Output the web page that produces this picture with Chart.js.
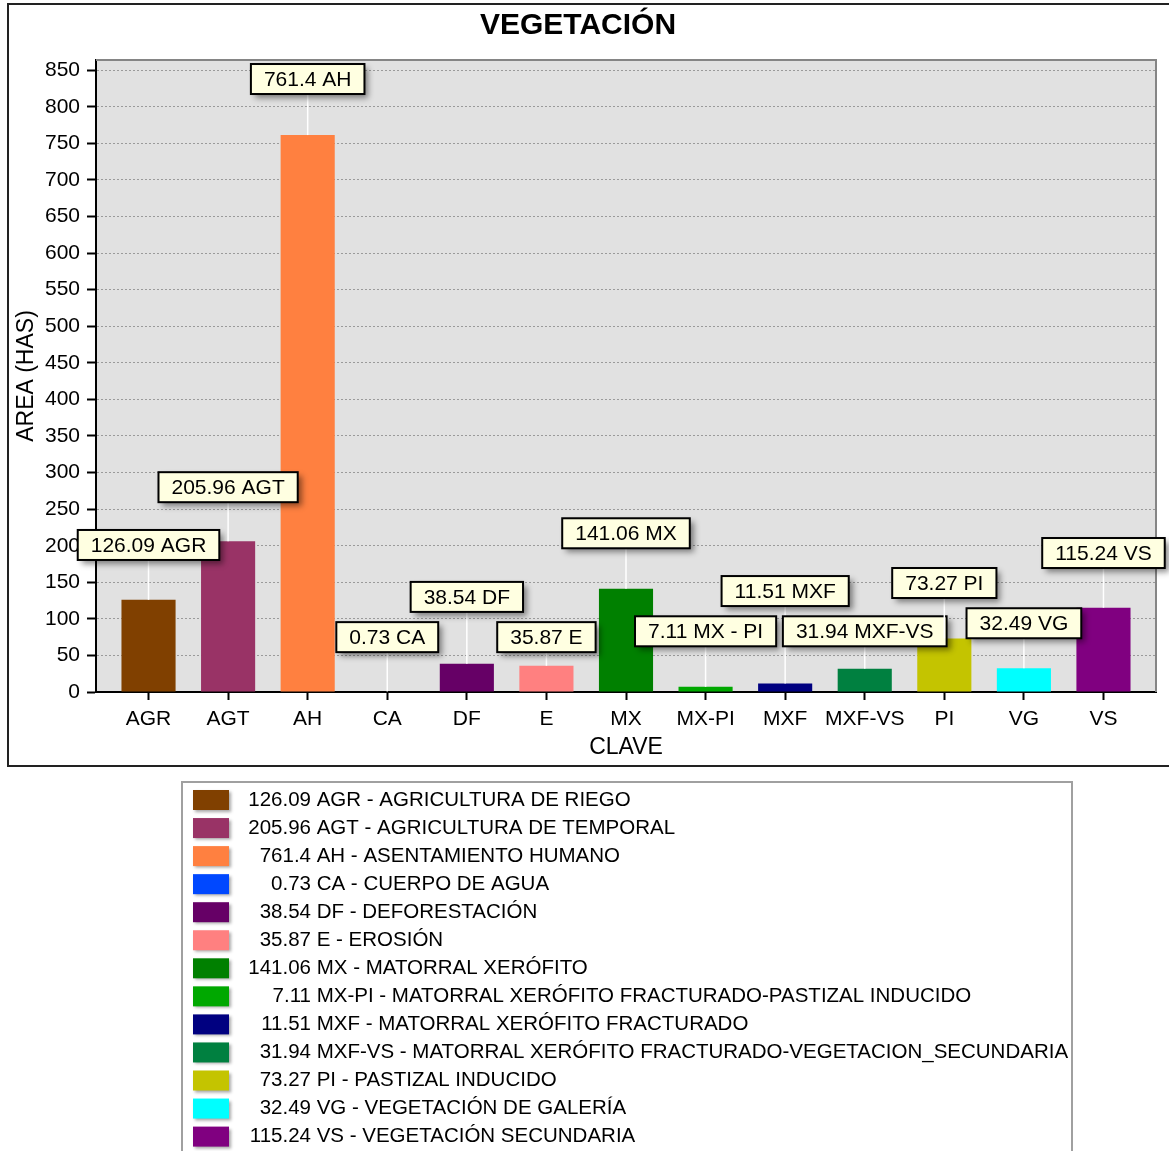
<!DOCTYPE html>
<html><head><meta charset="utf-8">
<script src="https://cdn.jsdelivr.net/npm/chart.js@4/dist/chart.umd.min.js"></script>
<style>html,body{margin:0;padding:0;background:#fff}canvas{display:block}</style>
</head><body>
<canvas id="c" width="1169" height="1151"></canvas>
<script>
// ---- data ----
const categories = ['AGR','AGT','AH','CA','DF','E','MX','MX-PI','MXF','MXF-VS','PI','VG','VS'];
const values = [126.09, 205.96, 761.4, 0.73, 38.54, 35.87, 141.06, 7.11, 11.51, 31.94, 73.27, 32.49, 115.24];
const descriptions = [
  'AGRICULTURA DE RIEGO',
  'AGRICULTURA DE TEMPORAL',
  'ASENTAMIENTO HUMANO',
  'CUERPO DE AGUA',
  'DEFORESTACIÓN',
  'EROSIÓN',
  'MATORRAL XERÓFITO',
  'MATORRAL XERÓFITO FRACTURADO-PASTIZAL INDUCIDO',
  'MATORRAL XERÓFITO FRACTURADO',
  'MATORRAL XERÓFITO FRACTURADO-VEGETACION_SECUNDARIA',
  'PASTIZAL INDUCIDO',
  'VEGETACIÓN DE GALERÍA',
  'VEGETACIÓN SECUNDARIA'
];
const calloutCodes = ['AGR','AGT','AH','CA','DF','E','MX','MX - PI','MXF','MXF-VS','PI','VG','VS'];
// vertical level (in data units) of each callout box centre
const calloutLevels = [201, 280, 838, 75, 130, 75, 217, 83, 138, 83, 149, 94, 190];
const colors = ['#804000','#993366','#ff8040','#0048ff','#660066','#ff8080','#008000','#00a800','#000080','#008040','#c4c400','#00ffff','#800080'];
const yTickValues = [0,50,100,150,200,250,300,350,400,450,500,550,600,650,700,750,800,850];

const FONT = "'Liberation Sans', Arial, sans-serif";
Chart.defaults.font.family = FONT;
Chart.defaults.color = '#000';

const bgPlugin = {
  id: 'bg',
  beforeDraw(chart) {
    const {ctx, chartArea: a} = chart;
    ctx.save();
    ctx.fillStyle = '#fff';
    ctx.fillRect(0, 0, chart.width, chart.height);
    ctx.fillStyle = '#e1e1e1';
    ctx.fillRect(a.left, a.top, a.right - a.left, a.bottom - a.top);
    ctx.restore();
  }
};

const overlayPlugin = {
  id: 'overlay',
  afterDraw(chart) {
    const {ctx, chartArea: a} = chart;
    const xs = chart.scales.x, ys = chart.scales.y;
    ctx.save();
    // outer frame
    ctx.strokeStyle = '#222';
    ctx.lineWidth = 2;
    ctx.strokeRect(8, 4, 1170, 762);
    // plot top/right frame
    ctx.strokeStyle = '#858585';
    ctx.lineWidth = 2;
    ctx.beginPath();
    ctx.moveTo(a.left, a.top);
    ctx.lineTo(a.right, a.top);
    ctx.lineTo(a.right, a.bottom);
    ctx.stroke();

    // callouts
    ctx.font = '21px ' + FONT;
    ctx.textAlign = 'center';
    ctx.textBaseline = 'middle';
    values.forEach((v, i) => {
      const cx = xs.getPixelForValue(i);
      const cy = ys.getPixelForValue(calloutLevels[i]);
      const barTop = ys.getPixelForValue(v);
      const text = v + ' ' + calloutCodes[i];
      const w = ctx.measureText(text).width + 26;
      const h = 30;
      // connector
      ctx.strokeStyle = '#ffffff';
      ctx.lineWidth = 1.5;
      ctx.beginPath();
      ctx.moveTo(cx, barTop);
      ctx.lineTo(cx, cy + h / 2);
      ctx.stroke();
      // box with shadow
      ctx.save();
      ctx.shadowColor = 'rgba(0,0,0,0.45)';
      ctx.shadowBlur = 6;
      ctx.shadowOffsetX = 4;
      ctx.shadowOffsetY = 4;
      ctx.fillStyle = '#ffffe1';
      ctx.fillRect(cx - w / 2, cy - h / 2, w, h);
      ctx.restore();
      ctx.strokeStyle = '#000';
      ctx.lineWidth = 2;
      ctx.strokeRect(cx - w / 2, cy - h / 2, w, h);
      ctx.fillStyle = '#000';
      ctx.fillText(text, cx, cy + 1);
    });

    // legend
    ctx.strokeStyle = '#a0a0a0';
    ctx.lineWidth = 2;
    ctx.strokeRect(182, 782, 890, 420);
    ctx.font = '20.5px ' + FONT;
    ctx.textBaseline = 'middle';
    values.forEach((v, i) => {
      const y = 800 + i * 28.05;
      ctx.save();
      ctx.shadowColor = 'rgba(0,0,0,0.35)';
      ctx.shadowBlur = 3;
      ctx.shadowOffsetX = 2;
      ctx.shadowOffsetY = 2;
      ctx.fillStyle = colors[i];
      ctx.fillRect(193, y - 10, 36, 20);
      ctx.restore();
      ctx.fillStyle = '#000';
      ctx.textAlign = 'right';
      ctx.fillText(String(v), 311, y);
      ctx.textAlign = 'left';
      ctx.fillText(' ' + categories[i] + ' - ' + descriptions[i], 311, y);
    });
    ctx.restore();
  }
};

new Chart(document.getElementById('c'), {
  type: 'bar',
  data: {
    datasets: [{
      data: values.map((v, i) => ({x: i, y: v})),
      backgroundColor: colors,
      borderWidth: 0,
      barPercentage: 0.68,
      categoryPercentage: 1
    }]
  },
  options: {
    responsive: false,
    animation: false,
    layout: {padding: {top: 0, left: 0, right: 13, bottom: 384}},
    plugins: {
      legend: {display: false},
      tooltip: {enabled: false},
      title: {
        display: true, text: 'VEGETACIÓN', color: '#000',
        font: {size: 30, weight: 'bold'},
        padding: {top: 8, bottom: 16}
      }
    },
    scales: {
      x: {
        type: 'linear', min: -0.66, max: 12.66, offset: false,
        afterBuildTicks: s => { s.ticks = categories.map((c, i) => ({value: i})); },
        afterFit: s => { s.height = 75; },
        ticks: {
          callback: v => categories[v] ?? '',
          autoSkip: false, maxRotation: 0, minRotation: 0,
          font: {size: 21}, color: '#000', padding: 7
        },
        grid: {offset: false, drawOnChartArea: false, drawTicks: true, tickLength: 8, tickColor: '#000', tickWidth: 2, color: '#000'},
        border: {display: true, color: '#000', width: 2},
        title: {display: true, text: 'CLAVE', font: {size: 23}, color: '#000', padding: {top: 0, bottom: 6}}
      },
      y: {
        min: 0, max: 864,
        afterBuildTicks: s => { s.ticks = yTickValues.map(v => ({value: v})); },
        afterFit: s => { s.width = 96; },
        ticks: {font: {size: 21}, color: '#000', padding: 7},
        grid: {color: '#9a9a9a', lineWidth: 1, drawTicks: true, tickLength: 9, tickColor: '#000', tickWidth: 2, tickBorderDash: []},
        border: {display: true, color: '#000', width: 2, dash: [2, 2]},
        title: {display: true, text: 'AREA (HAS)', font: {size: 23}, color: '#000', padding: {top: 13, bottom: 0}}
      }
    }
  },
  plugins: [bgPlugin, overlayPlugin]
});
</script>
</body></html>
